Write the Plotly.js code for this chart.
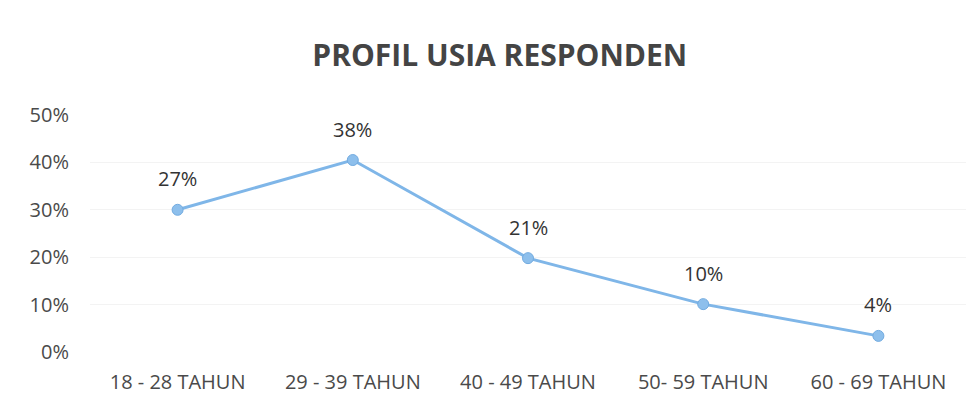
<!DOCTYPE html>
<html lang="id">
<head>
    <meta charset="utf-8">
    <script src="https://cdn.plot.ly/plotly-3.0.1.min.js"></script>
    <title>Profil Usia Responden</title>
    <style>
        body { margin: 0; background: #fff; }
        #divPlot { width: 978px; height: 408px; }
    </style>
</head>
<body>
    <div id="divPlot"></div>
    <script>
        // kategori usia
        var ageGroups = ['18 - 28 TAHUN', '29 - 39 TAHUN', '40 - 49 TAHUN', '50- 59 TAHUN', '60 - 69 TAHUN'];
        // posisi titik seperti terlihat pada grafik
        var shares = [0.30, 0.405, 0.198, 0.101, 0.034];
        // label data yang tertulis
        var shareLabels = ['27%', '38%', '21%', '10%', '4%'];

        var trace1 = {
            type: 'scatter',
            mode: 'lines+markers',
            x: ageGroups,
            y: shares,
            line: { color: '#7fb6e8', width: 3 },
            marker: { color: '#8dbfec', size: 11, line: { color: '#72abe0', width: 1 } },
            hoverinfo: 'skip'
        };

        var notes = [];
        for (var i = 0; i < ageGroups.length; i++) {
            notes.push({
                x: ageGroups[i], y: shares[i], text: shareLabels[i],
                showarrow: false, yshift: 31,
                font: { family: 'Open Sans, sans-serif', size: 20, color: '#333333' }
            });
        }

        var layout = {
            title: {
                text: '<b>PROFIL USIA RESPONDEN</b>',
                font: { family: 'Open Sans, sans-serif', size: 30, color: '#444444' },
                x: 0.511, xanchor: 'center', y: 0.865, yanchor: 'middle'
            },
            width: 978, height: 408,
            margin: { l: 90, r: 12, t: 115, b: 56 },
            paper_bgcolor: '#ffffff', plot_bgcolor: '#ffffff',
            showlegend: false,
            xaxis: {
                type: 'category', range: [-0.5, 4.5],
                showgrid: false, zeroline: false, showline: false, ticks: '',
                ticklabelstandoff: 16,
                tickfont: { family: 'Open Sans, sans-serif', size: 20, color: '#4a4a4a' }
            },
            yaxis: {
                range: [0, 0.5], dtick: 0.1, tickformat: '.0%',
                showgrid: true, gridcolor: '#f3f3f3', gridwidth: 1,
                zeroline: false, showline: false, ticks: '',
                ticklabelstandoff: 20,
                tickfont: { family: 'Open Sans, sans-serif', size: 20, color: '#4a4a4a' }
            },
            annotations: notes
        };
        var config = { responsive: false, displayModeBar: false };
        Plotly.newPlot('divPlot', [trace1], layout, config);
    </script>
</body>
</html>
